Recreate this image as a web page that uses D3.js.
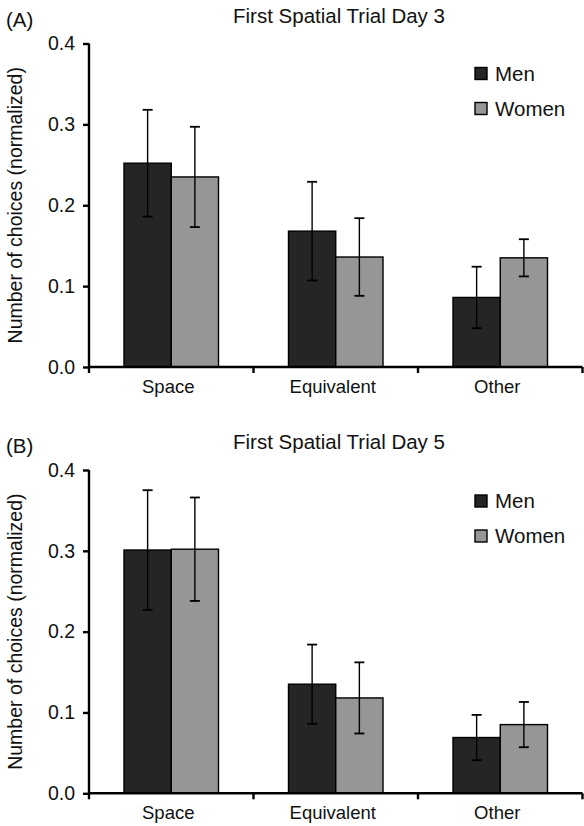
<!DOCTYPE html>
<html>
<head>
<meta charset="utf-8">
<script src="https://cdn.jsdelivr.net/npm/d3@7"></script>
<style>
  html, body { margin: 0; padding: 0; background: #fff; }
  svg { display: block; }
  text { font-family: "Liberation Sans", Arial, Helvetica, sans-serif; fill: #111; }
</style>
</head>
<body>
<svg id="chart" width="584" height="826"></svg>
<script>
// ---- data ----
const categories = ["Space", "Equivalent", "Other"];
const seriesNames = ["Men", "Women"];
const yTicks = [0.0, 0.1, 0.2, 0.3, 0.4];

const day3Men = [0.252, 0.168, 0.086];
const day3MenErr = [0.066, 0.061, 0.038];
const day3Women = [0.235, 0.136, 0.135];
const day3WomenErr = [0.062, 0.048, 0.023];

const day5Men = [0.301, 0.135, 0.069];
const day5MenErr = [0.074, 0.049, 0.028];
const day5Women = [0.302, 0.118, 0.085];
const day5WomenErr = [0.064, 0.044, 0.028];

const panelLetters = ["(A)", "(B)"];
const panelTitles = ["First Spatial Trial Day 3", "First Spatial Trial Day 5"];
const yLabel = "Number of choices (normalized)";

// ---- styles ----
const colors = { Men: "#252525", Women: "#969696" };

const svg = d3.select("#chart");

function drawPanel(opts) {
  const { top, bottom, letter, title, men, menErr, women, womenErr, legendY } = opts;
  const left = 89, right = 582.5;
  const g = svg.append("g");

  const y = d3.scaleLinear().domain([0, 0.4]).range([bottom, top]);
  const x0 = d3.scaleBand().domain(categories).range([left, right]).padding(0);
  const x1 = d3.scaleBand().domain(seriesNames).range([35, x0.bandwidth() - 35]).padding(0);

  const rows = [];
  categories.forEach((c, i) => {
    rows.push({ cat: c, s: "Men", v: men[i], e: menErr[i] });
    rows.push({ cat: c, s: "Women", v: women[i], e: womenErr[i] });
  });

  // bars
  g.selectAll("rect.bar").data(rows).join("rect")
    .attr("class", "bar")
    .attr("x", d => x0(d.cat) + x1(d.s))
    .attr("y", d => y(d.v))
    .attr("width", x1.bandwidth())
    .attr("height", d => y(0) - y(d.v))
    .attr("fill", d => colors[d.s])
    .attr("stroke", "#000")
    .attr("stroke-width", 1.4);

  // error bars
  const eb = g.selectAll("g.err").data(rows).join("g").attr("class", "err");
  const cx = d => x0(d.cat) + x1(d.s) + x1.bandwidth() / 2;
  const capW = 5;
  eb.append("line")
    .attr("x1", cx).attr("x2", cx)
    .attr("y1", d => y(d.v + d.e)).attr("y2", d => y(d.v - d.e))
    .attr("stroke", "#000").attr("stroke-width", 1.4);
  eb.append("line")
    .attr("x1", d => cx(d) - capW).attr("x2", d => cx(d) + capW)
    .attr("y1", d => y(d.v + d.e)).attr("y2", d => y(d.v + d.e))
    .attr("stroke", "#000").attr("stroke-width", 1.8);
  eb.append("line")
    .attr("x1", d => cx(d) - capW).attr("x2", d => cx(d) + capW)
    .attr("y1", d => y(d.v - d.e)).attr("y2", d => y(d.v - d.e))
    .attr("stroke", "#000").attr("stroke-width", 1.8);

  // y axis
  const yAxis = d3.axisLeft(y).tickValues(yTicks).tickFormat(d3.format(".1f"))
    .tickSize(6).tickPadding(8);
  const ya = g.append("g").attr("transform", `translate(${left},0)`).call(yAxis);
  ya.select(".domain").attr("stroke", "#000").attr("stroke-width", 2.4)
    .attr("d", `M0,${top}V${bottom}`);
  ya.selectAll(".tick line").attr("stroke", "#000").attr("stroke-width", 2.4);
  ya.selectAll(".tick text").attr("font-size", 19.5).attr("font-family", "Liberation Sans, Arial, sans-serif").attr("fill", "#111");

  // x axis: ticks at category boundaries
  const boundaries = [left].concat(categories.map(c => x0(c) + x0.bandwidth()));
  const xa = g.append("g");
  xa.append("line").attr("x1", left - 1).attr("x2", right)
    .attr("y1", bottom).attr("y2", bottom).attr("stroke", "#000").attr("stroke-width", 2.4);
  xa.selectAll("line.bt").data(boundaries).join("line").attr("class", "bt")
    .attr("x1", d => d).attr("x2", d => d)
    .attr("y1", bottom).attr("y2", bottom + 6)
    .attr("stroke", "#000").attr("stroke-width", 2.4);
  xa.selectAll("text.cat").data(categories).join("text").attr("class", "cat")
    .attr("x", d => x0(d) + x0.bandwidth() / 2 - 3)
    .attr("y", bottom + 26)
    .attr("text-anchor", "middle")
    .attr("font-size", 18.5)
    .text(d => d);

  // y label
  g.append("text")
    .attr("transform", `translate(22,${(top + bottom) / 2}) rotate(-90)`)
    .attr("text-anchor", "middle")
    .attr("font-size", 19.5)
    .text(yLabel);

  // panel letter and title
  g.append("text").attr("x", 6).attr("y", top - 17).attr("font-size", 20.5).text(letter);
  g.append("text").attr("x", 339).attr("y", top - 21).attr("text-anchor", "middle")
    .attr("font-size", 20.5).text(title);

  // legend
  const lg = g.append("g").attr("transform", `translate(475,${legendY})`);
  const li = lg.selectAll("g").data(seriesNames).join("g")
    .attr("transform", (d, i) => `translate(0,${i * 35})`);
  li.append("rect").attr("x", 0).attr("y", -12).attr("width", 12).attr("height", 12)
    .attr("fill", d => colors[d]).attr("stroke", "#000").attr("stroke-width", 1.4);
  li.append("text").attr("x", 20).attr("y", 1).attr("font-size", 20.5).text(d => d);
}

drawPanel({
  top: 43.5, bottom: 367, letter: panelLetters[0], title: panelTitles[0],
  men: day3Men, menErr: day3MenErr, women: day3Women, womenErr: day3WomenErr,
  legendY: 79.5
});
drawPanel({
  top: 470, bottom: 793.3, letter: panelLetters[1], title: panelTitles[1],
  men: day5Men, menErr: day5MenErr, women: day5Women, womenErr: day5WomenErr,
  legendY: 507
});
</script>
</body>
</html>
